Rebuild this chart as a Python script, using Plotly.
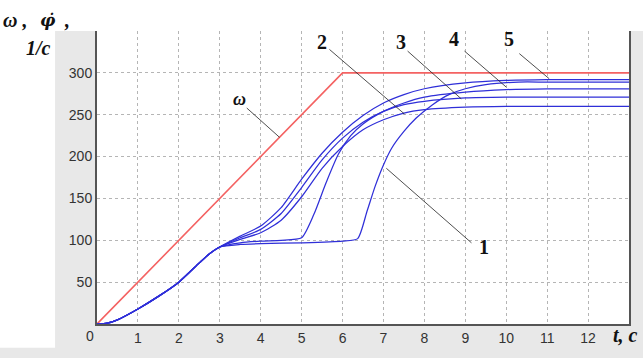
import plotly.graph_objects as go

# ---- data ----
t_common = [0, 0.25, 0.5, 1.0, 1.5, 2.0, 2.5, 2.75, 3.0]
w_common = [0, 1, 5, 18, 33, 50, 73, 84, 92]

t_omega = [0, 6, 13]
omega = [0, 300, 300]

t1 = [3.5, 4, 5, 6, 6.37, 6.6, 6.8, 7.0, 7.2, 7.5, 7.8, 8.2, 8.6, 9.0, 9.5, 10.3, 11, 13]
w1 = [95, 96, 97, 99, 102, 135, 165, 190, 210, 230, 246, 262, 274, 281, 286, 289, 289, 289]

t2 = [3.5, 4, 4.5, 5, 5.5, 6, 6.5, 7, 7.5, 8, 9, 10, 13]
w2 = [101, 109, 124, 152, 186, 212, 232, 244, 252, 256, 259, 260, 260]

t3 = [3.5, 4, 4.5, 5, 5.5, 6, 6.5, 7, 7.5, 8, 9, 10, 13]
w3 = [103, 113, 132, 163, 196, 222, 241, 254, 262, 266, 270, 271, 271]

t4 = [3.5, 4, 4.5, 5.0, 5.3, 5.6, 5.9, 6.2, 6.5, 7, 7.5, 8, 9, 10, 11, 13]
w4 = [97, 99, 100, 103, 131, 169, 203, 225, 239, 254, 264, 271, 277, 280, 281, 281]

t5 = [3.5, 4, 4.5, 5, 5.5, 6, 6.5, 7, 7.5, 8, 9, 10, 11, 13]
w5 = [105, 117, 139, 173, 204, 229, 249, 264, 274, 281, 288, 291, 292, 292]

x_ticks = list(range(1, 13))
y_ticks = [50, 100, 150, 200, 250, 300]

# curve labels: text, label pos, leader start, leader end
labels = ["\u03c9", "1", "2", "3", "4", "5"]
label_x = [3.49, 9.46, 5.51, 7.44, 8.73, 10.07]
label_y = [269, 92, 337, 337, 340, 340]
lead_x0 = [3.66, 7.07, 5.68, 7.59, 8.98, 10.32]
lead_y0 = [258, 186, 328, 326, 326, 323]
lead_x1 = [4.46, 9.15, 7.51, 8.9, 10.0, 11.05]
lead_y1 = [223, 97, 251, 269, 283, 293]

# ---- figure ----
W, H = 643, 358
L, R, T, B = 97, 13, 31, 20
pw, ph = W - L - R, H - T - B


def px(xp):
    return (xp - L) / pw


def py(yp):
    return (H - B - yp) / ph


blue = "#2f2fd8"
red = "#f46262"

fig = go.Figure()
fig.add_trace(go.Scatter(x=t_omega, y=omega, mode="lines",
                         line=dict(color=red, width=1.6)))
curves = [(t1, w1), (t2, w2), (t3, w3), (t4, w4), (t5, w5)]
for tt, ww in curves:
    fig.add_trace(go.Scatter(x=t_common + tt, y=w_common + ww, mode="lines",
                             line=dict(color=blue, width=1.25, shape="spline", smoothing=0.6)))

shapes = [
    # white strips outside the grey figure panel
    dict(type="rect", xref="paper", yref="paper", x0=px(-5), x1=px(55), y0=py(H + 5), y1=py(-5),
         fillcolor="white", line=dict(width=0), layer="below"),
    dict(type="rect", xref="paper", yref="paper", x0=px(-5), x1=px(W + 5), y0=py(31), y1=py(-5),
         fillcolor="white", line=dict(width=0), layer="below"),
]
for i in range(len(labels)):
    shapes.append(dict(type="line", xref="x", yref="y", x0=lead_x0[i], y0=lead_y0[i],
                       x1=lead_x1[i], y1=lead_y1[i], line=dict(color="#222222", width=0.8)))

annotations = []
for i, s in enumerate(labels):
    txt = "<b><i>" + s + "</i></b>" if i == 0 else "<b>" + s + "</b>"
    annotations.append(dict(x=label_x[i], y=label_y[i], xref="x", yref="y", text=txt,
                            showarrow=False,
                            font=dict(family="Liberation Serif", size=20 if i else 18, color="#111111")))

serif = dict(family="Liberation Serif", size=20, color="#111111")


def pa(xp, yp, text, font=serif):
    return dict(x=px(xp), y=py(yp), xref="paper", yref="paper", text=text, showarrow=False,
                xanchor="center", yanchor="middle", font=font)


annotations += [
    pa(15, 19, "<b><i>\u03c9 ,</i></b>"),
    pa(48, 19, "<b><i>\u03c6\u0307</i></b>", dict(family="DejaVu Serif", size=17, color="#111111")),
    pa(67, 19, "<b><i>,</i></b>"),
    pa(38, 49, "<b><i>1/c</i></b>"),
    pa(626, 350, "<b><i>t, c</i></b>"),
    pa(90, 351, "0", dict(family="Liberation Sans", size=14, color="#333333")),
]

tf = dict(family="Liberation Sans", size=14, color="#333333")
fig.update_layout(
    width=W, height=H,
    margin=dict(l=L, r=R, t=T, b=B),
    paper_bgcolor="#e8e8e8", plot_bgcolor="white",
    showlegend=False,
    shapes=shapes, annotations=annotations,
    xaxis=dict(range=[0, 13], tickvals=x_ticks, showgrid=True, gridcolor="#b5b5b5",
               griddash="dot", gridwidth=1, showline=True, linecolor="#555555", linewidth=2,
               zeroline=False, ticks="", tickfont=tf),
    yaxis=dict(range=[0, 350], tickvals=y_ticks + [350], ticktext=[str(v) for v in y_ticks] + [""],
               showgrid=True, gridcolor="#b5b5b5",
               griddash="dot", gridwidth=1, showline=True, linecolor="#555555", linewidth=2,
               mirror=True, zeroline=False, ticks="", tickfont=tf),
)
fig.write_html("out.html", config={"staticPlot": True})
